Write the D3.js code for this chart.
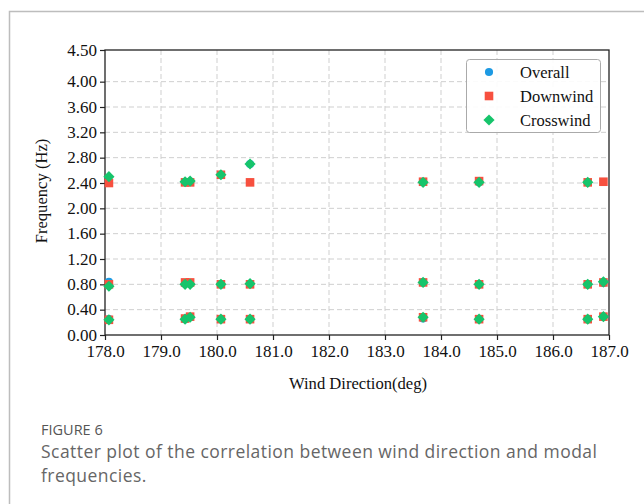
<!DOCTYPE html>
<html>
<head>
<meta charset="utf-8">
<script src="https://cdn.jsdelivr.net/npm/d3@7"></script>
<style>
  html, body { margin: 0; padding: 0; background: #fff; }
  svg { display: block; }
</style>
</head>
<body>
<svg id="chart" width="644" height="504"></svg>
<script>
// ---- Data ----
const windDir = [178.07, 179.43, 179.52, 180.07, 180.59, 183.68, 184.68, 186.62, 186.90];
const overallMode1 = [0.25, 0.25, 0.28, 0.25, 0.25, 0.26, 0.25, 0.25, 0.29];
const overallMode2 = [0.84, 0.81, 0.81, 0.80, 0.81, 0.83, 0.80, 0.80, 0.82];
const overallMode3 = [2.42, 2.41, 2.42, 2.53, 2.70, 2.41, 2.41, 2.41, null];
const downwindMode1 = [0.24, 0.26, 0.29, 0.25, 0.25, 0.28, 0.25, 0.25, 0.29];
const downwindMode2 = [0.80, 0.83, 0.83, 0.80, 0.80, 0.83, 0.80, 0.80, 0.83];
const downwindMode3 = [2.40, 2.41, 2.41, 2.53, 2.41, 2.42, 2.43, 2.41, 2.42];
const crosswindMode1 = [0.24, 0.25, 0.28, 0.25, 0.25, 0.28, 0.25, 0.25, 0.29];
const crosswindMode2 = [0.77, 0.80, 0.80, 0.80, 0.81, 0.83, 0.80, 0.80, 0.84];
const crosswindMode3 = [2.50, 2.42, 2.43, 2.53, 2.70, 2.41, 2.41, 2.41, null];
const seriesNames = ["Overall", "Downwind", "Crosswind"];
const xTicks = [178, 179, 180, 181, 182, 183, 184, 185, 186, 187];
const yTicks = [0, 0.4, 0.8, 1.2, 1.6, 2.0, 2.4, 2.8, 3.2, 3.6, 4.0, 4.5];

const seriesData = [
  [overallMode1, overallMode2, overallMode3],
  [downwindMode1, downwindMode2, downwindMode3],
  [crosswindMode1, crosswindMode2, crosswindMode3]
];
const colors = ["#1d9ae3", "#f7503f", "#16c46b"];

// marker path generators (circle, square, 45°-rotated square diamond)
function markerPath(i) {
  if (i === 0) return d3.symbol().type(d3.symbolCircle).size(52)();
  if (i === 1) { const h = 4.3; return `M${-h},${-h}H${h}V${h}H${-h}Z`; }
  const r = 5.6; return `M0,${-r}L${r},0L0,${r}L${-r},0Z`;
}

const svg = d3.select("#chart");

// Outer frame
svg.append("path")
  .attr("d", "M9.5,504 L9.5,11.5 L644,11.5")
  .attr("fill", "none").attr("stroke", "#bdbdbd").attr("stroke-width", 1.5);

const L = 105, R = 609, T = 50, B = 335;
const x = d3.scaleLinear().domain([178, 187]).range([L, R]);
const y = d3.scaleLinear().domain([0, 4.5]).range([B, T]);

// Grid
const grid = svg.append("g").attr("stroke", "#cfcfcf").attr("stroke-dasharray", "5,3").attr("stroke-width", 1);
grid.selectAll(".gx").data(xTicks.slice(1, -1)).enter().append("line")
  .attr("x1", d => x(d)).attr("x2", d => x(d)).attr("y1", T).attr("y2", B);
grid.selectAll(".gy").data(yTicks.slice(1, -1)).enter().append("line")
  .attr("y1", d => y(d)).attr("y2", d => y(d)).attr("x1", L).attr("x2", R);

// Axes
const fontFam = "'Liberation Serif', 'Times New Roman', serif";
const xAxis = svg.append("g").attr("transform", `translate(0,${B})`)
  .call(d3.axisBottom(x).tickValues(xTicks).tickFormat(d3.format(".1f")).tickSize(5).tickPadding(5));
const yAxis = svg.append("g").attr("transform", `translate(${L},0)`)
  .call(d3.axisLeft(y).tickValues(yTicks).tickFormat(d3.format(".2f")).tickSize(5).tickPadding(3));
[xAxis, yAxis].forEach(a => {
  a.select(".domain").remove();
  a.selectAll("line").attr("stroke", "#222").attr("stroke-width", 1.2);
  a.selectAll("text").attr("font-family", fontFam).attr("font-size", 17).attr("fill", "#111");
});
yAxis.selectAll("text").attr("dy", "0.3em");

// Frame of plot
svg.append("rect").attr("x", L).attr("y", T).attr("width", R - L).attr("height", B - T)
  .attr("fill", "none").attr("stroke", "#222").attr("stroke-width", 1.3);

// Points
seriesData.forEach((modes, si) => {
  const g = svg.append("g");
  modes.forEach(vals => {
    windDir.forEach((wd, i) => {
      if (vals[i] == null) return;
      g.append("path")
        .attr("d", markerPath(si))
        .attr("transform", `translate(${x(wd)},${y(vals[i])})`)
        .attr("fill", colors[si]);
    });
  });
});

// Legend
const lg = svg.append("g");
lg.append("rect").attr("x", 466.5).attr("y", 59.5).attr("width", 134).attr("height", 73).attr("rx", 3)
  .attr("fill", "#fff").attr("fill-opacity", 0.9).attr("stroke", "#aaa").attr("stroke-width", 1);
seriesNames.forEach((name, i) => {
  const cy = 72 + i * 24;
  lg.append("path").attr("d", markerPath(i))
    .attr("transform", `translate(489,${cy})`).attr("fill", colors[i]);
  lg.append("text").attr("x", 520).attr("y", cy + 5.5).text(name)
    .attr("font-family", fontFam).attr("font-size", 16.5).attr("fill", "#111");
});

// Axis titles
svg.append("text").attr("x", 358).attr("y", 389).attr("text-anchor", "middle")
  .attr("font-family", fontFam).attr("font-size", 16.6).attr("fill", "#111").text("Wind Direction(deg)");
svg.append("text").attr("transform", "translate(47,191) rotate(-90)").attr("text-anchor", "middle")
  .attr("font-family", fontFam).attr("font-size", 16.6).attr("fill", "#111").text("Frequency (Hz)");

// Caption
const capFont = "'Open Sans', 'Noto Sans', sans-serif";
svg.append("text").attr("x", 41).attr("y", 435).attr("font-family", capFont).attr("font-size", 14.5)
  .attr("fill", "#555").text("FIGURE 6");
svg.append("text").attr("x", 41).attr("y", 458).attr("font-family", capFont).attr("font-size", 17.5)
  .attr("letter-spacing", 0.45).attr("font-weight", 400).attr("fill", "#666")
  .text("Scatter plot of the correlation between wind direction and modal");
svg.append("text").attr("x", 41).attr("y", 482).attr("font-family", capFont).attr("font-size", 17.5)
  .attr("letter-spacing", 0.45).attr("font-weight", 400).attr("fill", "#666").text("frequencies.");
</script>
</body>
</html>
